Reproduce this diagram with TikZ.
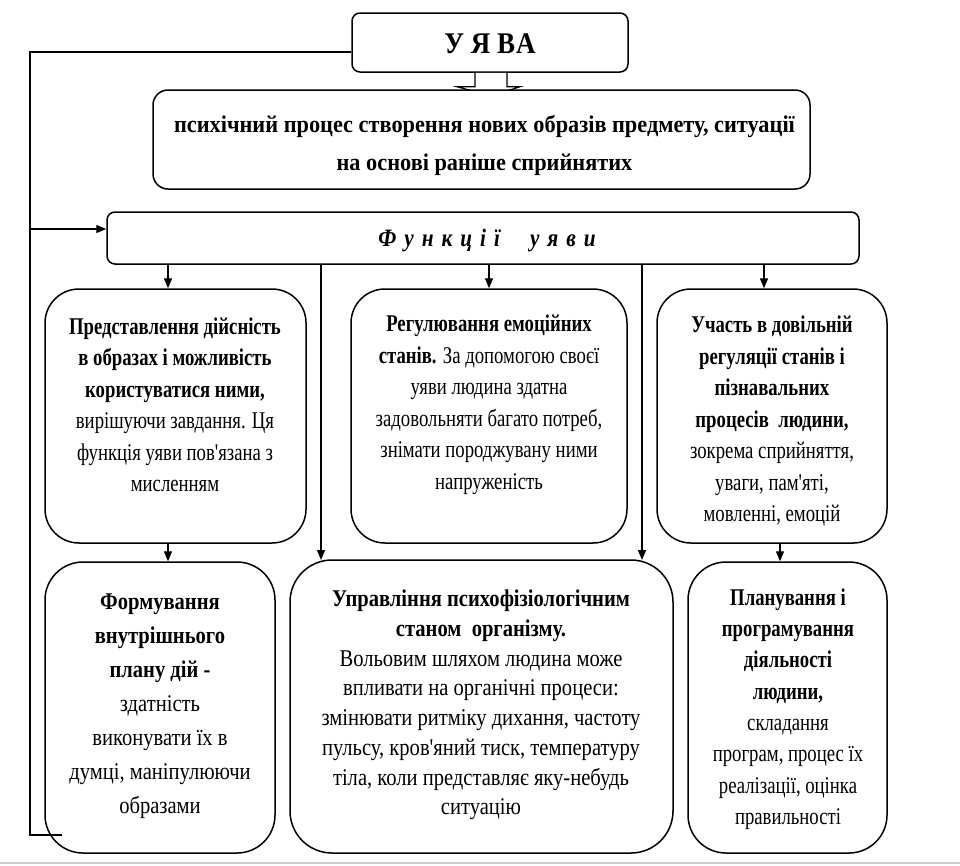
\documentclass[tikz,border=0pt]{standalone}
\usepackage{fontspec}
\setmainfont{Liberation Serif}[FakeStretch=0.78, Ligatures=TeXOff]
\newfontfamily\deffont{Liberation Serif}[FakeStretch=0.93, Ligatures=TeXOff]
\newfontfamily\widefont{Liberation Serif}[FakeStretch=0.857, Ligatures=TeXOff]
\newfontfamily\topfont{Liberation Serif}[FakeStretch=0.9, Ligatures=TeXOff]
\newfontfamily\funcfont{Liberation Serif}[FakeStretch=0.85, Ligatures=TeXOff]
\usetikzlibrary{arrows.meta,calc}
\tikzset{
  box/.style={draw, line width=1.5pt, inner sep=0pt},
  smallbox/.style={box, rounded corners=8pt},
  bigbox/.style={box, rounded corners=34pt},
  txt/.style={align=center, inner sep=0pt, font=\fontsize{24}{31.5}\selectfont},
  conn/.style={line width=1.3pt},
  arr/.style={conn, -{Triangle[length=10pt,width=8pt]}},
}
\begin{document}
\begin{tikzpicture}[x=1pt,y=-1pt]
\useasboundingbox (0,0) rectangle (960,865);
% boxes
\node[smallbox, minimum width=276pt, minimum height=59pt] (top) at (490,42.5) {};
\node[smallbox, minimum width=752pt, minimum height=52pt] (func) at (483,238) {};
\node[bigbox, minimum width=261pt, minimum height=254pt] (L1) at (175.5,416) {};
\node[bigbox, minimum width=276pt, minimum height=254pt] (M1) at (489,416) {};
\node[bigbox, minimum width=230pt, minimum height=254pt] (R1) at (772,416) {};
\node[bigbox, rounded corners=38pt, minimum width=230pt, minimum height=291pt] (L2) at (160,707.5) {};
\node[bigbox, rounded corners=42pt, minimum width=383pt, minimum height=293pt] (M2) at (481.5,706.5) {};
\node[bigbox, rounded corners=38pt, minimum width=199pt, minimum height=291pt] (R2) at (787.5,707.5) {};
% block arrow top -> def
\draw[line width=1.2pt, fill=white] ($(top.south)+(-15,0)$) -- ++(0,14) -- ++(-18,0) -- (491,96) -- ($(top.south)+(30,14)$) -- ++(-13,0) -- ($(top.south)+(17,0)$);
\node[box, rounded corners=15pt, minimum width=657pt, minimum height=99pt, fill=white] (def) at (481.5,139.5) {};
% texts
\node[txt, font=\topfont\bfseries\fontsize{30}{34}\selectfont] (ttop) at (490,44) {У Я В\kern1ptА};
\node[txt, font=\deffont\bfseries\fontsize{24}{38}\selectfont] (tdef) at (484.5,145) {психічний процес створення нових образів предмету, ситуації\\на основі раніше сприйнятих};
\node[txt, font=\funcfont\bfseries\itshape\fontsize{25}{28}\selectfont] (tfunc) at (487,241) {Ф\hspace{8pt}у\hspace{8pt}н\hspace{8pt}к\hspace{8pt}ц\hspace{8pt}і\hspace{8pt}ї\hspace{30pt}у\hspace{8pt}я\hspace{8pt}в\hspace{8pt}и};
\node[txt] (tL1) at (175,405) {\textbf{Представлення дійсність}\\\textbf{в образах і можливість}\\\textbf{користуватися ними,}\\вирішуючи завдання. Ця\\функція уяви пов'язана з\\мисленням};
\node[txt] (tM1) at (489,405) {\textbf{Регулювання емоційних}\\\textbf{станів.} За допомогою своєї\\уяви людина здатна\\задовольняти багато потреб,\\знімати породжувану ними\\напруженість};
\node[txt] (tR1) at (772,421) {\textbf{Участь в довільній}\\\textbf{регуляції станів і}\\\textbf{пізнавальних}\\\textbf{процесів\ \ людини,}\\зокрема сприйняття,\\уваги, пам'яті,\\мовленні, емоцій};
\node[txt, font=\widefont\fontsize{24}{34}\selectfont] (tL2) at (160,706) {\textbf{Формування}\\\textbf{внутрішнього}\\\textbf{плану дій -}\\здатність\\виконувати їх в\\думці, маніпулюючи\\образами};
\node[txt, font=\widefont\fontsize{24}{29.7}\selectfont] (tM2) at (481,705) {\textbf{Управління психофізіологічним}\\\textbf{станом\ \ організму.}\\Вольовим шляхом людина може\\впливати на органічні процеси:\\змінювати ритміку дихання, частоту\\пульсу, кров'яний тиск, температуру\\тіла, коли представляє яку-небудь\\ситуацію};
\node[txt, font=\fontsize{24}{31.3}\selectfont] (tR2) at (788,709) {\textbf{Планування і}\\\textbf{програмування}\\\textbf{діяльності}\\\textbf{людини,}\\складання\\програм, процес їх\\реалізації, оцінка\\правильності};
% connectors
\coordinate (a) at (30,52);
\coordinate (b) at (30,229);
\coordinate (c) at (30,835);
\coordinate (d) at (62,835);
\draw[conn] (top.west |- a) -- (a) -- (c) -- (d);
\draw[arr] (b) -- (func.west |- b);
\draw[arr] (func.south -| 168,0) -- (L1.north -| 168,0);
\draw[arr] (func.south -| M1.north) -- (M1.north);
\draw[arr] (func.south -| 764,0) -- (R1.north -| 764,0);
\draw[arr] (func.south -| 321,0) -- (321,560);
\draw[arr] (func.south -| 642,0) -- (642,560);
\draw[arr] (L1.south -| 168,0) -- (L2.north -| 168,0);
\draw[arr] (R1.south -| 780,0) -- (R2.north -| 780,0);
% bottom gray strip
\draw[gray!40, line width=1.5pt] (0,863) -- (960,863);
\end{tikzpicture}
\end{document}
